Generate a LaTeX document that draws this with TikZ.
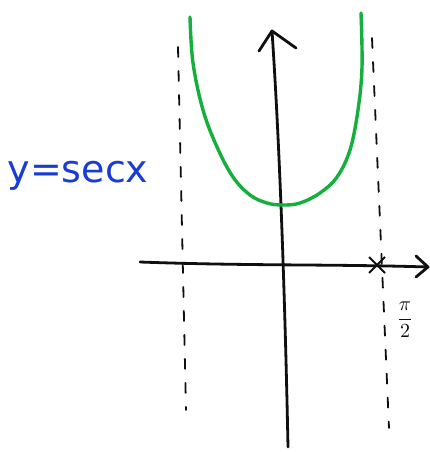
\documentclass[tikz,border=0pt]{standalone}
\usepackage{fontspec}
\setsansfont{DejaVu Sans}
\definecolor{curvegreen}{RGB}{20,175,60}
\definecolor{inkblue}{RGB}{25,60,210}
\definecolor{ink}{RGB}{15,15,15}
\tikzset{
  axisline/.style={draw=ink, line width=2.8pt, line cap=round, line join=round},
  asym/.style={draw=ink, line width=1.8pt, dash pattern=on 10pt off 14pt, line cap=round},
  graphline/.style={draw=curvegreen, line width=3.4pt, line cap=round},
}
\begin{document}
\begin{tikzpicture}[x=1pt,y=-1pt]
\useasboundingbox (0,0) rectangle (429,452);
\fill[white] (0,0) rectangle (429,452);
% asymptotes
\coordinate (la1) at (178,47); \coordinate (la2) at (186,410);
\coordinate (ra1) at (372,38); \coordinate (ra2) at (389,428);
\draw[asym] (la1) -- (la2);
\draw[asym] (ra1) -- (ra2);
% x axis
\coordinate (xs) at (140,262); \coordinate (xe) at (428,267);
\draw[axisline] (xs) .. controls (250,266) and (330,264) .. (xe);
\draw[axisline] (416,256) -- (xe) -- (416,277);
% y axis
\coordinate (ys) at (288,447); \coordinate (ye) at (272,31);
\draw[axisline] (ys) .. controls (285,300) and (280,150) .. (ye);
\draw[axisline] (259,51) -- (ye) -- (296,48);
% cross at pi/2
\coordinate (cx) at (377,265);
\draw[ink, line width=1.8pt] (369,257) -- (385,273) (385,257) -- (369,273);
\node[ink, inner sep=0pt] (pilabel) at (405,320) {\scalebox{2.0}{$\displaystyle\frac{\pi}{2}$}};
% graph
\draw[graphline] plot[smooth, tension=0.6] coordinates {
 (190,17) (193,63) (203,110) (217,147) (233,177) (250,195) (267,203) (283,205)
 (300,203) (320,193) (337,177) (350,150) (358,110) (362,67) (361,13)};
% label
\node[inkblue, font=\sffamily\fontsize{38}{38}\selectfont, inner sep=0pt] (lab) at (78,176) {y=secx};
\end{tikzpicture}
\end{document}
